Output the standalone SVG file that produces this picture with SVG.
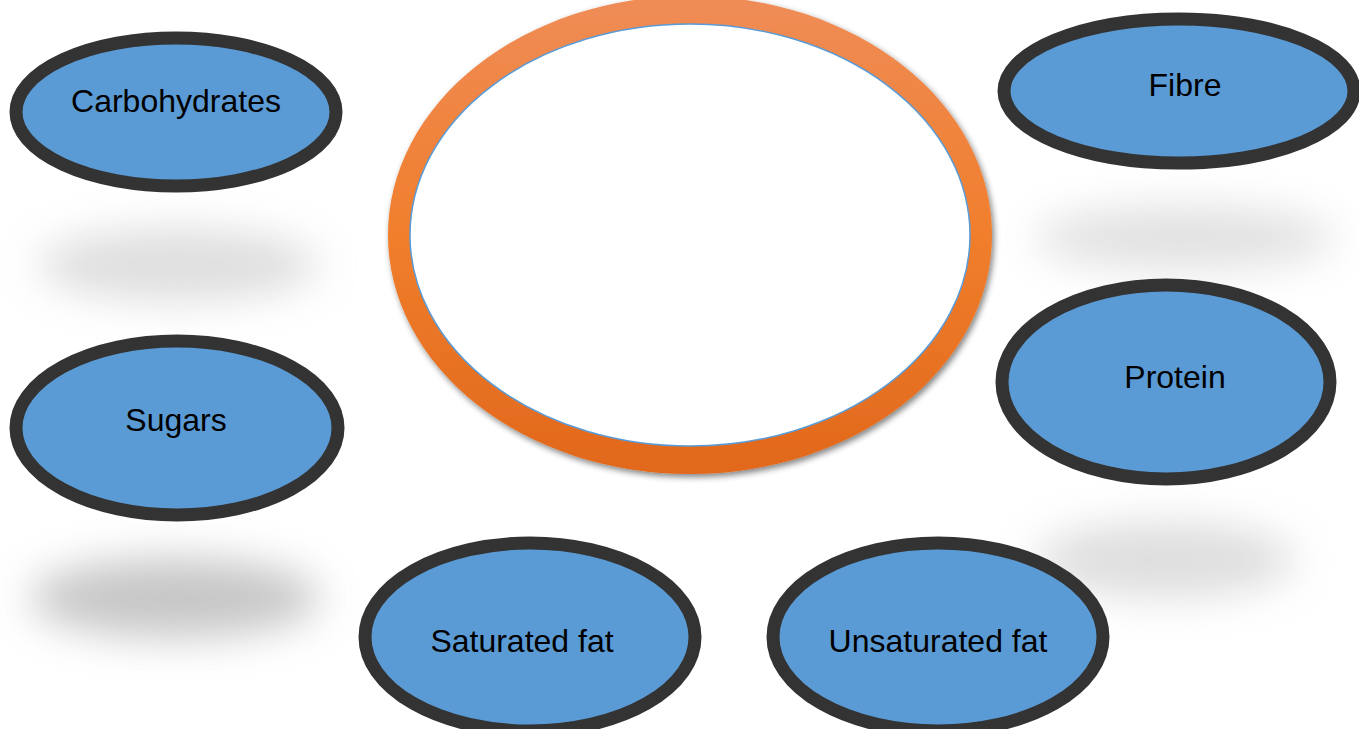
<svg xmlns="http://www.w3.org/2000/svg" width="1359" height="729" viewBox="0 0 1359 729">
<defs>
<linearGradient id="ring" x1="0" y1="0" x2="0" y2="1">
<stop offset="0" stop-color="#EF8C57"/>
<stop offset="0.5" stop-color="#F07E2C"/>
<stop offset="1" stop-color="#E1681C"/>
</linearGradient>
<filter id="blur" x="-30%" y="-60%" width="160%" height="220%"><feGaussianBlur stdDeviation="20"/></filter>
<filter id="ds" x="-10%" y="-10%" width="120%" height="120%"><feGaussianBlur in="SourceAlpha" stdDeviation="3"/><feOffset dx="2" dy="3"/><feComponentTransfer><feFuncA type="linear" slope="0.5"/></feComponentTransfer><feMerge><feMergeNode/><feMergeNode in="SourceGraphic"/></feMerge></filter>
</defs>
<style>
.node{fill:#5B9BD5;stroke:#333333;stroke-width:13}
.lbl{font-family:"Liberation Sans",Arial,sans-serif;font-size:32px;fill:#000;text-anchor:middle}
.shadow{fill:#bdbdbd}
</style>
<rect width="1359" height="729" fill="#ffffff"/>
<g id="shadows">
<ellipse class="shadow" cx="178" cy="265" rx="140" ry="36" opacity="0.5" filter="url(#blur)"/>
<ellipse class="shadow" cx="1185" cy="238" rx="150" ry="32" opacity="0.45" filter="url(#blur)"/>
<ellipse class="shadow" cx="175" cy="598" rx="145" ry="40" opacity="0.85" filter="url(#blur)"/>
<ellipse class="shadow" cx="1165" cy="560" rx="130" ry="38" opacity="0.5" filter="url(#blur)"/>
</g>
<g id="center">
<path filter="url(#ds)" fill="url(#ring)" fill-rule="evenodd" d="M388,235 a302,239 0 1,0 604,0 a302,239 0 1,0 -604,0 Z M410,235 a280,211 0 1,0 560,0 a280,211 0 1,0 -560,0 Z"/>
<ellipse cx="690" cy="235" rx="280" ry="211" fill="#ffffff" stroke="#5B9BD5" stroke-width="1.5"/>
</g>
<g id="carbohydrates">
<ellipse class="node" cx="176" cy="112" rx="160" ry="74"/>
<text class="lbl" x="176" y="112">Carbohydrates</text>
</g>
<g id="fibre">
<ellipse class="node" cx="1179" cy="91" rx="175" ry="72"/>
<text class="lbl" x="1185" y="96">Fibre</text>
</g>
<g id="protein">
<ellipse class="node" cx="1166" cy="382" rx="164" ry="97"/>
<text class="lbl" x="1175" y="388">Protein</text>
</g>
<g id="sugars">
<ellipse class="node" cx="177" cy="428" rx="161" ry="87"/>
<text class="lbl" x="176" y="431">Sugars</text>
</g>
<g id="saturated-fat">
<ellipse class="node" cx="530" cy="637" rx="165" ry="94"/>
<text class="lbl" x="522" y="652">Saturated fat</text>
</g>
<g id="unsaturated-fat">
<ellipse class="node" cx="938" cy="637" rx="165" ry="94"/>
<text class="lbl" x="938" y="652">Unsaturated fat</text>
</g>
<g id="connectors"/>
</svg>
